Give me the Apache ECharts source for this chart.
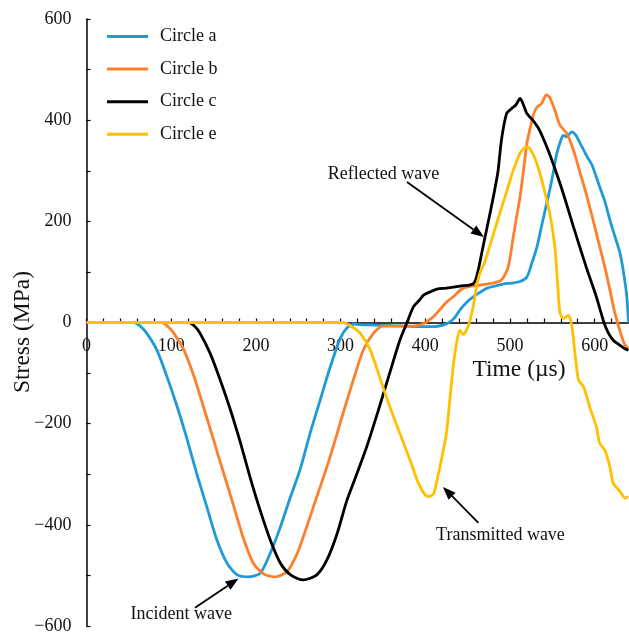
<!DOCTYPE html>
<html>
<head>
<meta charset="utf-8">
<script src="https://cdn.jsdelivr.net/npm/echarts@6/dist/echarts.min.js"></script>
<style>
  html, body { margin: 0; padding: 0; background: #fff; }
  #chart { width: 629px; height: 637px; }
</style>
</head>
<body>
<div id="chart"></div>
<script>
// Stress histories (MPa) against time (µs) for the four circles
const seriesNames = ['Circle a', 'Circle b', 'Circle c', 'Circle e'];
const seriesColors = ['#1f9ad6', '#fd7e2b', '#000000', '#ffc000'];

const timeA = [0, 50, 56, 64, 71, 83, 95, 107, 119, 130, 142, 154, 166, 178, 191, 205, 217, 229, 241, 252, 264, 276, 288, 300, 308, 316, 322, 340, 360, 390, 410, 421, 428, 434, 441, 449, 457, 465, 473, 482, 492, 502, 512, 520, 526, 532, 539, 547, 551, 555, 559, 563, 567, 573, 578, 583, 591, 597, 606, 612, 618, 624, 630, 635, 638, 640];
const stressA = [0, 0, 0, -8, -21, -54, -107, -166, -232, -298, -364, -430, -476, -499, -503, -496, -456, -404, -344, -292, -219, -153, -87, -30, -10, -3, -4, -5, -6, -8, -8, -5, 0, 8, 25, 40, 51, 60, 68, 72, 76, 78, 81, 90, 118, 150, 203, 262, 295, 332, 355, 370, 367, 377, 370, 354, 328, 311, 268, 240, 203, 170, 137, 90, 51, 0];

const timeB = [0, 80, 89, 96, 103, 115, 127, 138, 150, 162, 174, 186, 197, 209, 223, 237, 249, 260, 272, 284, 296, 303, 315, 327, 339, 350, 370, 386, 395, 402, 410, 417, 425, 433, 445, 465, 480, 490, 498, 504, 508, 512, 516, 520, 524, 528, 532, 537, 543, 547, 553, 559, 567, 575, 583, 590, 597, 606, 612, 618, 623, 627, 632, 636, 640];
const stressB = [0, 0, 0, -8, -21, -54, -107, -166, -232, -298, -364, -430, -476, -497, -503, -492, -456, -404, -344, -285, -219, -179, -114, -54, -21, -7, -7, -7, -4, 2, 12, 25, 40, 51, 68, 74, 78, 84, 110, 170, 210, 249, 300, 354, 385, 412, 426, 432, 450, 445, 420, 390, 374, 341, 295, 255, 210, 150, 110, 65, 25, 0, -28, -45, -52];

const timeC = [0, 112, 121, 128, 134, 146, 158, 170, 182, 193, 205, 217, 229, 241, 256, 272, 284, 296, 307, 315, 331, 346, 358, 370, 378, 386, 393, 398, 405, 414, 425, 441, 457, 462, 467, 472, 477, 482, 486, 490, 496, 502, 507, 512, 516, 520, 527, 535, 545, 555, 563, 575, 590, 602, 611, 616, 622, 630, 636, 640];
const stressC = [0, 0, 0, -8, -21, -61, -114, -173, -239, -305, -371, -430, -476, -499, -509, -499, -469, -417, -354, -318, -245, -166, -100, -35, -2, 31, 44, 54, 60, 66, 68, 72, 77, 100, 140, 180, 220, 262, 300, 361, 413, 423, 430, 443, 430, 413, 400, 380, 341, 295, 255, 189, 110, 51, 0, -20, -35, -45, -52, -55];

const timeE = [0, 295, 303, 313, 323, 335, 346, 358, 370, 382, 392, 400, 405, 410, 414, 419, 425, 429, 433, 437, 441, 445, 449, 453, 457, 461, 465, 470, 476, 486, 496, 504, 512, 517, 521, 527, 533, 539, 547, 553, 556, 559, 563, 569, 573, 577, 581, 587, 594, 602, 606, 612, 618, 622, 630, 636, 640];
const stressE = [0, 0, 0, -8, -21, -54, -107, -166, -219, -272, -318, -341, -344, -338, -311, -272, -219, -153, -87, -40, -15, -24, -14, 5, 35, 75, 100, 118, 150, 205, 258, 301, 335, 345, 347, 334, 308, 272, 216, 150, 84, 20, 8, 14, -6, -64, -114, -127, -166, -206, -239, -252, -285, -318, -334, -347, -344];

const timeSets = [timeA, timeB, timeC, timeE];
const stressSets = [stressA, stressB, stressC, stressE];

// Annotation texts with arrow start/tip in data space [time, stress]
const noteTexts = ['Reflected wave', 'Incident wave', 'Transmitted wave'];
const noteTextAt = [[350.6, 293.5], [112, -576], [488.8, -420]];
const noteArrowFrom = [[378.4, 277.7], [128.1, -564], [462.8, -396]];
const noteArrowTo = [[469.3, 169], [179.5, -506], [420.9, -325]];

const FONT = '"Liberation Serif", "Times New Roman", serif';
const TEXT_COLOR = '#111';
const LABEL_SIZE = 18;
const TITLE_SIZE = 23.5;
const GRID_TOP = 19;
const GRID_BOTTOM = 11;
const GRID_HEIGHT = 637 - GRID_TOP - GRID_BOTTOM;

const chart = echarts.init(document.getElementById('chart'), null, { renderer: 'canvas' });

const series = seriesNames.map((name, i) => ({
  name: name,
  type: 'line',
  data: timeSets[i].map((t, k) => [t, stressSets[i][k]]),
  showSymbol: false,
  symbol: 'none',
  smooth: 0.25,
  lineStyle: { color: seriesColors[i], width: 2.8 },
  itemStyle: { color: seriesColors[i] },
  animation: false,
  z: 2 + i
}));

function fmtStress(v) {
  if (v % 200 !== 0) return '';
  return v < 0 ? '\u2212' + (-v) : String(v);
}

chart.setOption({
  backgroundColor: '#fff',
  animation: false,
  grid: { left: 86.5, right: 0.5, top: GRID_TOP, bottom: GRID_BOTTOM, containLabel: false, outerBoundsMode: 'none' },
  legend: {
    orient: 'vertical',
    left: 102,
    top: 22.5,
    icon: 'rect',
    itemWidth: 41,
    itemHeight: 3,
    itemGap: 14.6,
    data: seriesNames,
    textStyle: { fontFamily: FONT, fontSize: LABEL_SIZE, color: TEXT_COLOR, padding: [0, 0, 0, 7] }
  },
  xAxis: {
    type: 'value',
    min: 0,
    max: 640,
    interval: 20,
    position: 'bottom',
    // the time axis runs along the zero-stress line
    offset: -GRID_HEIGHT / 2,
    axisLine: { onZero: false, lineStyle: { color: '#000', width: 1.5 } },
    axisTick: { inside: true, length: 4, lineStyle: { color: '#000', width: 1.2 } },
    axisLabel: {
      margin: 15,
      fontFamily: FONT, fontSize: LABEL_SIZE, color: TEXT_COLOR,
      showMaxLabel: false,
      formatter: v => (v % 100 === 0 ? String(v) : '')
    },
    splitLine: { show: false }
  },
  yAxis: {
    type: 'value',
    min: -600,
    max: 600,
    interval: 100,
    axisLine: { onZero: false, lineStyle: { color: '#000', width: 1.5 } },
    axisTick: { inside: true, length: 4, lineStyle: { color: '#000', width: 1.2 } },
    axisLabel: {
      margin: 15,
      fontFamily: FONT, fontSize: LABEL_SIZE, color: TEXT_COLOR,
      formatter: fmtStress
    },
    splitLine: { show: false }
  },
  series: series
});

// Axis titles and annotation arrows, placed through the chart's own scales
function arrowHead(p, q, len, half) {
  const dx = q[0] - p[0], dy = q[1] - p[1];
  const d = Math.sqrt(dx * dx + dy * dy);
  const ux = dx / d, uy = dy / d;
  const bx = q[0] - ux * len, by = q[1] - uy * len;
  return [q, [bx - uy * half, by + ux * half], [bx + uy * half, by - ux * half]];
}

const graphics = [
  {
    type: 'text',
    style: { text: 'Time (\u00b5s)', x: 519, y: 370, align: 'center', verticalAlign: 'middle',
             fontFamily: FONT, fontSize: TITLE_SIZE, fill: TEXT_COLOR }
  },
  {
    type: 'text',
    rotation: Math.PI / 2,
    x: 23, y: 332,
    style: { text: 'Stress (MPa)', x: 0, y: 0, align: 'center', verticalAlign: 'middle',
             fontFamily: FONT, fontSize: TITLE_SIZE, fill: TEXT_COLOR }
  }
];

noteTexts.forEach((txt, i) => {
  const c = chart.convertToPixel({ gridIndex: 0 }, noteTextAt[i]);
  const p = chart.convertToPixel({ gridIndex: 0 }, noteArrowFrom[i]);
  const q = chart.convertToPixel({ gridIndex: 0 }, noteArrowTo[i]);
  const head = arrowHead(p, q, 13, 5);
  const bx = (head[1][0] + head[2][0]) / 2, by = (head[1][1] + head[2][1]) / 2;
  graphics.push({
    type: 'text',
    style: { text: txt, x: c[0], y: c[1], align: 'center', verticalAlign: 'middle',
             fontFamily: FONT, fontSize: LABEL_SIZE, fill: TEXT_COLOR },
    z: 100
  });
  graphics.push({
    type: 'line',
    shape: { x1: p[0], y1: p[1], x2: bx, y2: by },
    style: { stroke: '#000', lineWidth: 1.8 },
    z: 100
  });
  graphics.push({
    type: 'polygon',
    shape: { points: head },
    style: { fill: '#000' },
    z: 100
  });
});

chart.setOption({ graphic: graphics });
</script>
</body>
</html>
